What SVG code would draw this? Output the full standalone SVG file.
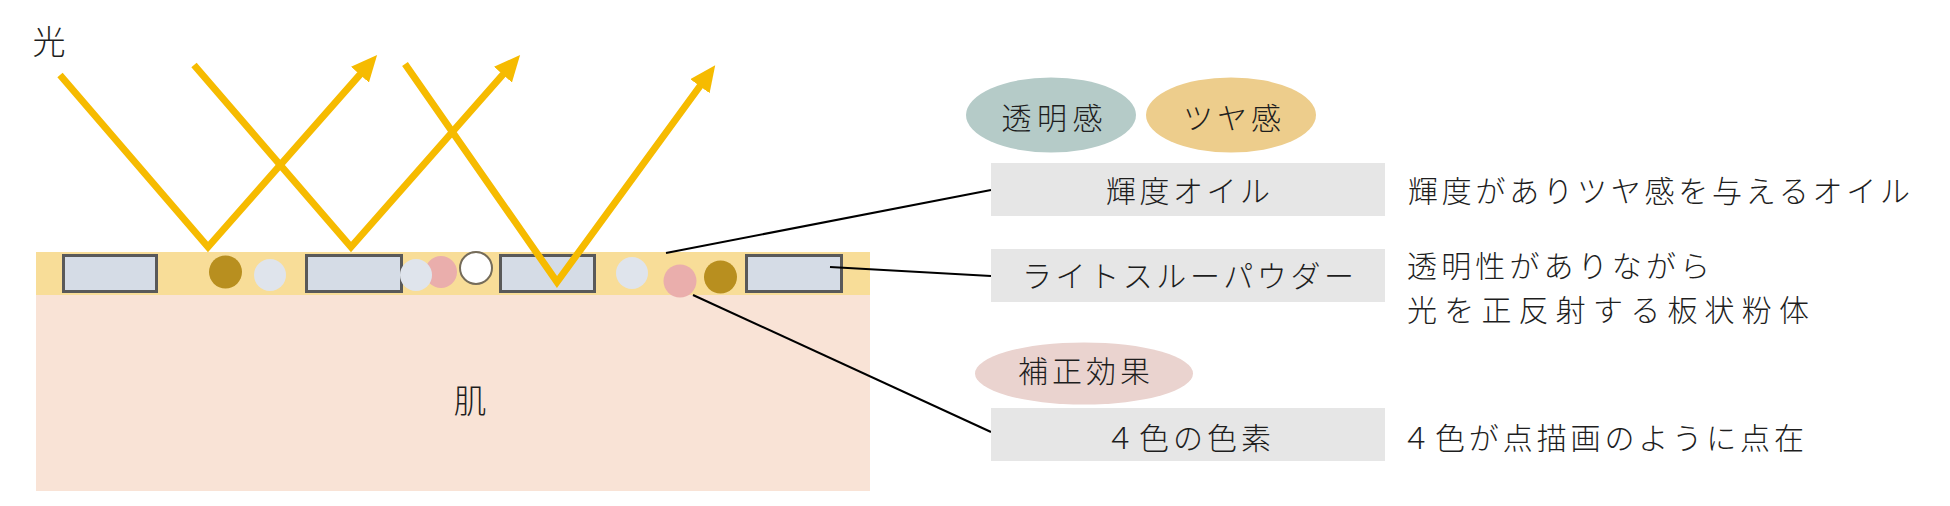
<svg xmlns="http://www.w3.org/2000/svg" width="1950" height="506" viewBox="0 0 1950 506">
<style>
  text { font-family: "Noto Sans CJK JP", "Noto Sans", sans-serif; font-weight: 300; fill: #1e1e1e; dominant-baseline: central; }
  .lbl { font-size: 30px; }
  .big { font-size: 33px; }
  .mid { text-anchor: middle; }
  .plate { fill: #d5dce6; stroke: #595959; stroke-width: 3; }
  .box { fill: #e6e6e6; }
  .ray { fill: none; stroke: #f6bb00; stroke-width: 7; stroke-linejoin: miter; stroke-miterlimit: 10; marker-end: url(#ah); }
  .conn { stroke: #000; stroke-width: 2; fill: none; }
  .brown { fill: #b88f1f; }
  .light { fill: #dfe4ec; }
  .pink { fill: #eaaeac; }
</style>
<defs>
  <marker id="ah" markerUnits="userSpaceOnUse" markerWidth="26" markerHeight="24" viewBox="0 0 26 24" refX="8" refY="12" orient="auto">
    <path d="M0,0 L26,12 L0,24 z" fill="#f6bb00"/>
  </marker>
</defs>

<g id="skin">
  <rect x="36" y="295" width="834" height="196" fill="#f9e3d6"/>
  <text class="big mid" x="470" y="399">肌</text>
</g>
<g id="layer">
  <rect x="36" y="252" width="834" height="43" fill="#f8dd98"/>
  <rect class="plate" x="63.5" y="255.5" width="93" height="36"/>
  <rect class="plate" x="306.5" y="255.5" width="95" height="36"/>
  <rect class="plate" x="500.5" y="255.5" width="94" height="36"/>
  <rect class="plate" x="746.5" y="255.5" width="95" height="36"/>
  <circle class="brown" cx="225.5" cy="272" r="16.5"/>
  <circle class="light" cx="270" cy="275" r="16"/>
  <circle class="pink" cx="441" cy="272" r="16"/>
  <circle class="light" cx="416" cy="275" r="16"/>
  <circle cx="476" cy="268" r="16" fill="#fff" stroke="#756c5a" stroke-width="2"/>
  <circle class="light" cx="632" cy="273" r="16"/>
  <circle class="pink" cx="680" cy="281" r="16.5"/>
  <circle class="brown" cx="720.5" cy="277" r="16.5"/>
</g>
<g id="light">
  <text class="big mid" x="49" y="40">光</text>
  <polyline class="ray" points="60,75 208,247 365.2,68.6"/>
  <polyline class="ray" points="194,65 351,247 508.2,68.6"/>
  <polyline class="ray" points="405,64 557,282 704.6,79.7"/>
</g>

<g id="connectors">
  <line class="conn" x1="666" y1="253" x2="991" y2="190"/>
  <line class="conn" x1="830" y1="267" x2="991" y2="276"/>
  <line class="conn" x1="693" y1="295" x2="991" y2="432"/>
</g>

<g id="tag-toumei">
  <ellipse cx="1051" cy="115" rx="85" ry="37.5" fill="#b5cbc8"/>
  <text class="lbl mid" x="1052" y="116" textLength="101" lengthAdjust="spacing">透明感</text>
</g>
<g id="tag-tsuya">
  <ellipse cx="1231" cy="115" rx="85" ry="37.5" fill="#edcd8c"/>
  <text class="lbl mid" x="1232" y="116" textLength="98" lengthAdjust="spacing">ツヤ感</text>
</g>
<g id="tag-hosei">
  <ellipse cx="1084" cy="373.5" rx="109" ry="31" fill="#ead3cf"/>
  <text class="lbl mid" x="1084" y="369" textLength="132" lengthAdjust="spacing">補正効果</text>
</g>

<g id="node-oil">
  <rect class="box" x="991" y="163" width="394" height="53"/>
  <text class="lbl mid" x="1188" y="189" textLength="164" lengthAdjust="spacing">輝度オイル</text>
  <text class="lbl" x="1408" y="189" textLength="502" lengthAdjust="spacing">輝度がありツヤ感を与えるオイル</text>
</g>
<g id="node-powder">
  <rect class="box" x="991" y="249" width="394" height="53"/>
  <text class="lbl mid" x="1188" y="274" textLength="332" lengthAdjust="spacing">ライトスルーパウダー</text>
  <text class="lbl" x="1407" y="264" textLength="303" lengthAdjust="spacing">透明性がありながら</text>
  <text class="lbl" x="1407" y="308" textLength="402" lengthAdjust="spacing">光を正反射する板状粉体</text>
</g>
<g id="node-pigment">
  <rect class="box" x="991" y="408" width="394" height="53"/>
  <text class="lbl mid" x="1188" y="436" textLength="166" lengthAdjust="spacing">４色の色素</text>
  <text class="lbl" x="1401" y="436" textLength="403" lengthAdjust="spacing">４色が点描画のように点在</text>
</g>
</svg>
